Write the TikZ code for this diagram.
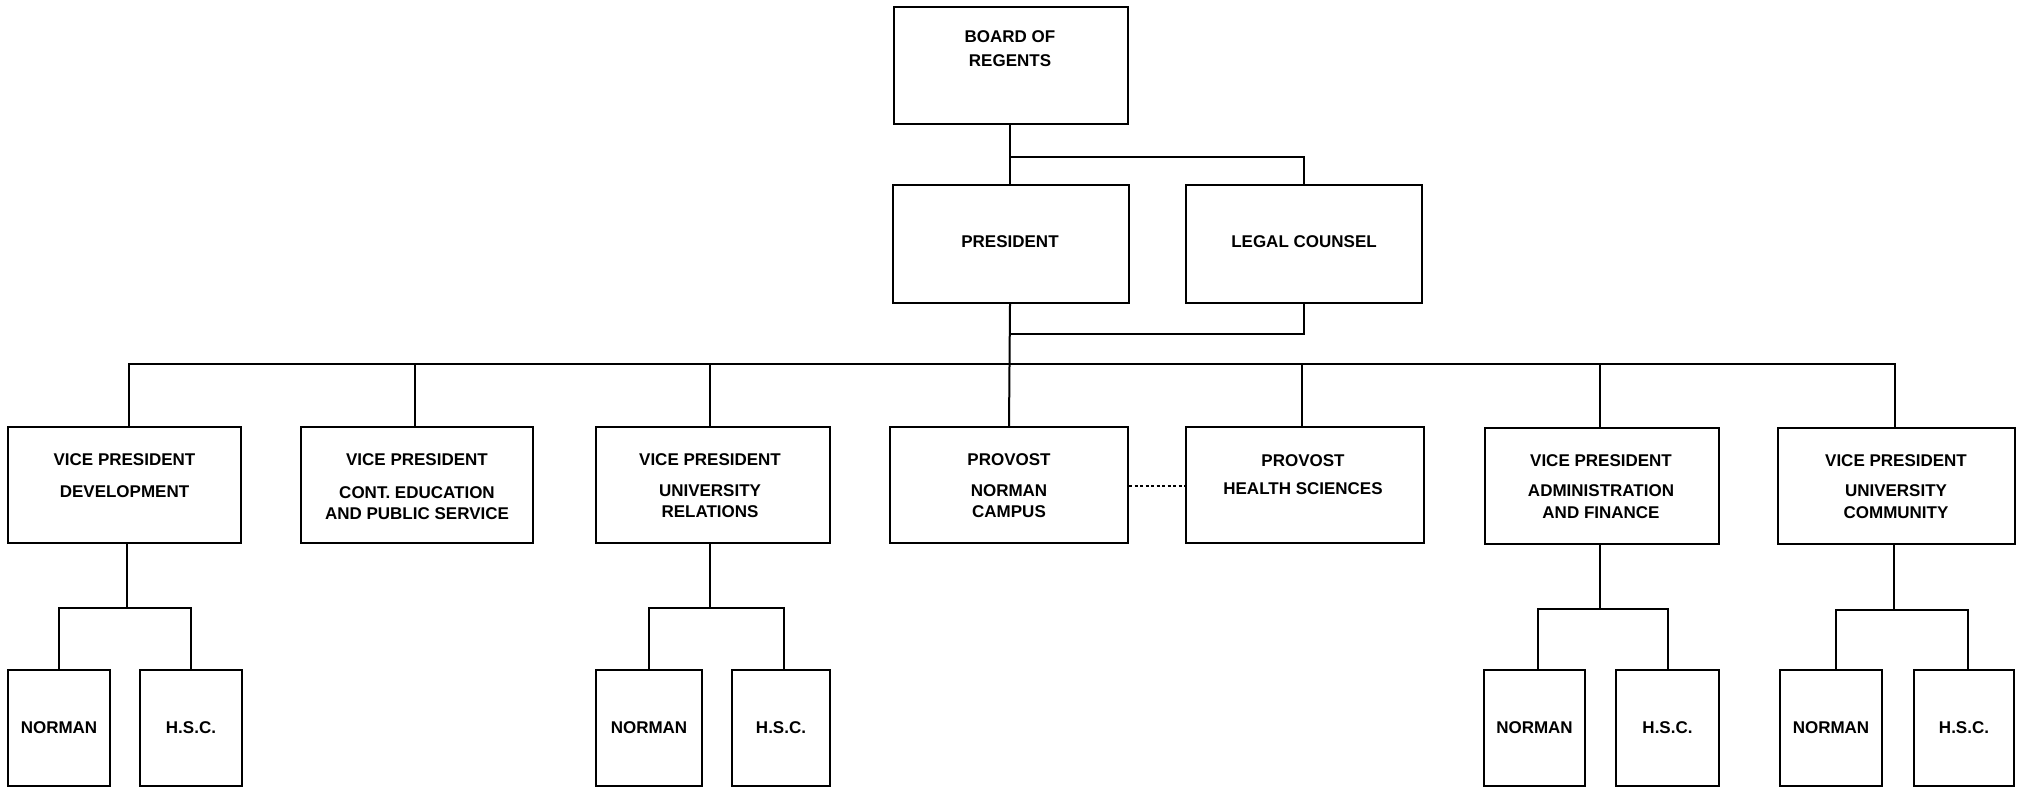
\documentclass[tikz,border=0pt]{standalone}
\usepackage{fontspec}
\setmainfont{Liberation Sans}
\begin{document}
\begin{tikzpicture}[x=1pt,y=-1pt,
  box/.style={draw=black,line width=2.4pt,rectangle,inner sep=0pt,fill=none},
  lbl/.style={anchor=base,inner sep=0pt,font=\fontsize{17}{20}\selectfont\bfseries},
  conn/.style={draw=black,line width=2pt},
  dotconn/.style={draw=black,line width=1.8pt,dash pattern=on 3pt off 2.5pt}]
\useasboundingbox (0,0) rectangle (2025,788);
% top level
\node[box,minimum width=234pt,minimum height=117pt] (board) at (1011,65.5) {};
\node[lbl] (boardA) at (1010,42) {BOARD OF};
\node[lbl] (boardB) at (1010,66) {REGENTS};
\node[box,minimum width=236pt,minimum height=118pt] (pres) at (1011,244) {};
\node[lbl] (presA) at (1010,247) {PRESIDENT};
\node[box,minimum width=236pt,minimum height=118pt] (legal) at (1304,244) {};
\node[lbl] (legalA) at (1304,247) {LEGAL COUNSEL};
% second row
\node[box,minimum width=233pt,minimum height=116pt] (dev) at (124.5,485) {};
\node[lbl] (devA) at (124.5,465) {VICE PRESIDENT};
\node[lbl] (devB) at (124.5,497) {DEVELOPMENT};
\node[box,minimum width=232pt,minimum height=116pt] (cont) at (417,485) {};
\node[lbl] (contA) at (417,465) {VICE PRESIDENT};
\node[lbl] (contB) at (417,498) {CONT. EDUCATION};
\node[lbl] (contC) at (417,519) {AND PUBLIC SERVICE};
\node[box,minimum width=234pt,minimum height=116pt] (ur) at (713,485) {};
\node[lbl] (urA) at (710,465) {VICE PRESIDENT};
\node[lbl] (urB) at (710,496) {UNIVERSITY};
\node[lbl] (urC) at (710,517) {RELATIONS};
\node[box,minimum width=238pt,minimum height=116pt] (provn) at (1009,485) {};
\node[lbl] (provnA) at (1009,465) {PROVOST};
\node[lbl] (provnB) at (1009,496) {NORMAN};
\node[lbl] (provnC) at (1009,517) {CAMPUS};
\node[box,minimum width=238pt,minimum height=116pt] (phs) at (1305,485) {};
\node[lbl] (phsA) at (1303,466) {PROVOST};
\node[lbl] (phsB) at (1303,494) {HEALTH SCIENCES};
\node[box,minimum width=234pt,minimum height=116pt] (af) at (1602,486) {};
\node[lbl] (afA) at (1601,466) {VICE PRESIDENT};
\node[lbl] (afB) at (1601,496) {ADMINISTRATION};
\node[lbl] (afC) at (1601,518) {AND FINANCE};
\node[box,minimum width=237pt,minimum height=116pt] (uc) at (1896.5,486) {};
\node[lbl] (ucA) at (1896,466) {VICE PRESIDENT};
\node[lbl] (ucB) at (1896,496) {UNIVERSITY};
\node[lbl] (ucC) at (1896,518) {COMMUNITY};
% third row
\node[box,minimum width=102pt,minimum height=116pt] (devN) at (59,728) {};
\node[lbl] (devNA) at (59,733) {NORMAN};
\node[box,minimum width=102pt,minimum height=116pt] (devH) at (191,728) {};
\node[lbl] (devHA) at (191,733) {H.S.C.};
\node[box,minimum width=106pt,minimum height=116pt] (urN) at (649,728) {};
\node[lbl] (urNA) at (649,733) {NORMAN};
\node[box,minimum width=98pt,minimum height=116pt] (urH) at (781,728) {};
\node[lbl] (urHA) at (781,733) {H.S.C.};
\node[box,minimum width=101pt,minimum height=116pt] (afN) at (1534.5,728) {};
\node[lbl] (afNA) at (1534.5,733) {NORMAN};
\node[box,minimum width=103pt,minimum height=116pt] (afH) at (1667.5,728) {};
\node[lbl] (afHA) at (1667.5,733) {H.S.C.};
\node[box,minimum width=102pt,minimum height=116pt] (ucN) at (1831,728) {};
\node[lbl] (ucNA) at (1831,733) {NORMAN};
\node[box,minimum width=100pt,minimum height=116pt] (ucH) at (1964,728) {};
\node[lbl] (ucHA) at (1964,733) {H.S.C.};
% junction coordinates
\coordinate (jBoard) at (1010,157);
\coordinate (jLegal) at (1010,334);
\coordinate (bus) at (1010,364);
% connectors top
\draw[conn] ([xshift=-1pt]board.south) -- ([xshift=-1pt]pres.north);
\draw[conn] (jBoard) -| (legal.north);
\draw[conn] (legal.south) |- (jLegal);
\draw[conn] ([xshift=-1pt]pres.south) -- (provn.north);
% bus
\draw[conn] ([xshift=4.5pt]dev.north) |- (bus) -| ([xshift=-1.5pt]uc.north);
\draw[conn] ([xshift=-2pt]cont.north) -- ++(0,-63);
\draw[conn] ([xshift=-3pt]ur.north) -- ++(0,-63);
\draw[conn] ([xshift=-3pt]phs.north) -- ++(0,-63);
\draw[conn] ([xshift=-2pt]af.north) -- ++(0,-64);
% dotted link
\draw[dotconn] (provn.east |- 0,486) -- (phs.west |- 0,486);
% sub-branches
\coordinate (devJ) at (127,608);
\draw[conn] ([xshift=2.5pt]dev.south) -- (devJ);
\draw[conn] (devN.north) |- (devJ) -| (devH.north);
\coordinate (urJ) at (710,608);
\draw[conn] ([xshift=-3pt]ur.south) -- (urJ);
\draw[conn] (urN.north) |- (urJ) -| ([xshift=3pt]urH.north);
\coordinate (afJ) at (1600,609);
\draw[conn] ([xshift=-2pt]af.south) -- (afJ);
\draw[conn] ([xshift=3pt]afN.north) |- (afJ) -| (afH.north);
\coordinate (ucJ) at (1894,610);
\draw[conn] ([xshift=-2.5pt]uc.south) -- (ucJ);
\draw[conn] ([xshift=5pt]ucN.north) |- (ucJ) -| ([xshift=4pt]ucH.north);
\end{tikzpicture}
\end{document}
